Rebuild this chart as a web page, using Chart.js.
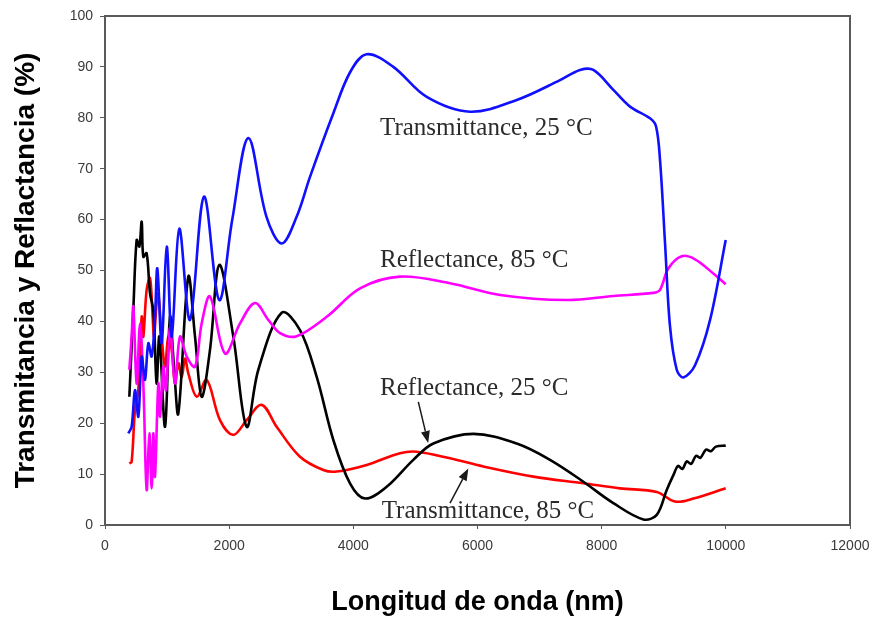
<!DOCTYPE html>
<html>
<head>
<meta charset="utf-8">
<script src="https://cdn.jsdelivr.net/npm/chart.js@4.4.1/dist/chart.umd.min.js"></script>
<style>
  body { margin: 0; background: #fff; }
  canvas { display: block; }
</style>
</head>
<body>
<canvas id="specChart" width="875" height="621"></canvas>
<script>
// wavelength (nm) / value (%)
const trans25X = [376, 429, 483, 537, 591, 644, 698, 752, 805, 843, 913, 994, 1074, 1197, 1369, 1595, 1840, 2050, 2309, 2600, 2846, 3088, 3302, 3678, 3950, 4215, 4644, 5182, 5880, 6632, 7329, 7651, 7866, 8188, 8457, 8779, 8876, 8940, 9021, 9101, 9209, 9316, 9504, 9746, 9998];
const trans25Y = [18, 19.3, 26.5, 21.3, 33.1, 28.5, 35.7, 33.1, 40.9, 50.4, 35.7, 54.7, 37, 58.2, 40.3, 64.5, 44.2, 60, 76.0, 60.6, 55.3, 60.6, 68.4, 80.9, 89, 92.5, 90.0, 84.1, 81.2, 83.5, 87.4, 89.4, 89.4, 85.5, 82.2, 79.9, 78.3, 71.7, 55.3, 39.0, 30.5, 29.0, 31.4, 40.3, 56.0];

const refl85X = [392, 429, 456, 510, 564, 617, 671, 714, 752, 778, 805, 859, 886, 939, 983, 1047, 1128, 1208, 1316, 1450, 1557, 1691, 1933, 2175, 2416, 2631, 2819, 3088, 3571, 4108, 4752, 5557, 6363, 7437, 8188, 8832, 8940, 9074, 9289, 9504, 9799, 9998];
const refl85Y = [30.5, 37, 42.9, 27.8, 39.6, 27.8, 6.9, 18, 7.2, 18, 9.5, 27.8, 21.3, 31.1, 26.5, 38.9, 27.8, 37, 33.1, 31.1, 39.6, 44.9, 33.7, 39.6, 43.6, 40.3, 37.7, 37.1, 40.9, 46.5, 48.8, 47.5, 45.2, 44.2, 45.0, 45.6, 46.2, 50.4, 52.8, 52.2, 49.4, 47.3];

const refl25X = [392, 456, 510, 553, 591, 617, 671, 725, 778, 832, 875, 967, 1047, 1111, 1181, 1342, 1450, 1557, 1691, 1842, 2067, 2282, 2470, 2846, 3141, 3410, 3678, 3946, 4188, 4537, 4966, 5289, 5933, 6632, 7168, 7705, 8188, 8672, 8887, 9048, 9155, 9230, 9300, 9370, 9440, 9520, 9590, 9680, 9760, 9840, 9998];
const refl25Y = [25.2, 42.2, 56, 54.7, 59.6, 52.7, 53.4, 45.5, 42.2, 27.8, 37, 19.3, 40.9, 31.1, 21.9, 48.8, 37, 25.2, 34.4, 51.1, 37, 19.3, 30.5, 41.7, 38.3, 29.1, 16.7, 8.2, 5.2, 7.5, 12.8, 16.0, 17.9, 16.0, 12.8, 8.5, 4.3, 1.1, 2.0, 6.9, 9.8, 11.6, 11.0, 12.5, 12.0, 13.6, 13.2, 14.8, 14.5, 15.4, 15.6];

const trans85X = [392, 429, 483, 537, 591, 617, 671, 725, 768, 789, 832, 859, 913, 967, 1020, 1074, 1128, 1181, 1235, 1289, 1342, 1477, 1638, 1852, 2067, 2282, 2524, 2765, 3141, 3517, 3732, 4215, 4752, 5021, 5557, 6094, 6900, 7705, 8296, 8887, 9182, 9477, 9998];
const trans85Y = [12.1, 12.4, 22.6, 26.5, 40.9, 37.0, 46.2, 48.5, 40.9, 37, 43.6, 45.5, 37, 31.1, 37, 34.4, 27.8, 31.8, 29.1, 32.7, 29.8, 25.2, 28.5, 20.6, 17.7, 20.6, 23.6, 19.3, 13.4, 10.8, 10.5, 11.8, 14.1, 14.4, 13.1, 11.5, 9.5, 8.2, 7.2, 6.5, 4.6, 5.2, 7.2];

const seriesNames = ["Transmittance, 25 °C", "Reflectance, 85 °C", "Reflectance, 25 °C", "Transmittance, 85 °C"];
const xTicks = [0, 2000, 4000, 6000, 8000, 10000, 12000];
const yTicks = [0, 10, 20, 30, 40, 50, 60, 70, 80, 90, 100];

// label positions in data units (left edge, baseline)
const noteX = [4430, 4430, 4430, 4457];
const noteY = [76.6, 50.7, 25.5, 1.4];
// arrows: [fromX, fromY, toX, toY]
const arrows = [
    [5047, 24.2, 5206, 16.1],
    [5557, 4.3, 5852, 11.1]
];

function pts(xs, ys) {
    return xs.map((v, i) => ({ x: v, y: ys[i] }));
}

const notesPlugin = {
    id: 'notes',
    afterDatasetsDraw(chart) {
        const { ctx, scales: { x, y } } = chart;
        ctx.save();
        ctx.font = '25px "Liberation Serif", "Times New Roman", serif';
        ctx.fillStyle = '#2b2b2b';
        ctx.textBaseline = 'alphabetic';
        seriesNames.forEach(function (t, i) {
            ctx.fillText(t, x.getPixelForValue(noteX[i]), y.getPixelForValue(noteY[i]));
        });

        ctx.strokeStyle = '#1a1a1a';
        ctx.fillStyle = '#1a1a1a';
        ctx.lineWidth = 1.5;
        arrows.forEach(function (a) {
            const x0 = x.getPixelForValue(a[0]), y0 = y.getPixelForValue(a[1]);
            const x1 = x.getPixelForValue(a[2]), y1 = y.getPixelForValue(a[3]);
            const ang = Math.atan2(y1 - y0, x1 - x0);
            const len = 12, half = 4.5;
            const bx = x1 - len * Math.cos(ang), by = y1 - len * Math.sin(ang);
            ctx.beginPath();
            ctx.moveTo(x0, y0);
            ctx.lineTo(bx, by);
            ctx.stroke();
            ctx.beginPath();
            ctx.moveTo(x1, y1);
            ctx.lineTo(bx + half * Math.sin(ang), by - half * Math.cos(ang));
            ctx.lineTo(bx - half * Math.sin(ang), by + half * Math.cos(ang));
            ctx.closePath();
            ctx.fill();
        });
        ctx.restore();
    },
    afterDraw(chart) {
        const { ctx, chartArea: a } = chart;
        ctx.save();
        ctx.strokeStyle = '#5a5a5a';
        ctx.lineWidth = 2;
        ctx.strokeRect(a.left, a.top, a.right - a.left, a.bottom - a.top);
        ctx.restore();
    }
};

const lineStyle = { pointRadius: 0, borderWidth: 2.6, fill: false, tension: 0.35 };

new Chart(document.getElementById('specChart').getContext('2d'), {
    type: 'line',
    data: {
        datasets: [
            Object.assign({ label: seriesNames[0], data: pts(trans25X, trans25Y), borderColor: '#1010ff' }, lineStyle),
            Object.assign({ label: seriesNames[1], data: pts(refl85X, refl85Y), borderColor: '#ff00ff' }, lineStyle),
            Object.assign({ label: seriesNames[2], data: pts(refl25X, refl25Y), borderColor: '#000000' }, lineStyle),
            Object.assign({ label: seriesNames[3], data: pts(trans85X, trans85Y), borderColor: '#ff0000' }, lineStyle)
        ]
    },
    options: {
        responsive: false,
        animation: false,
        layout: { padding: { top: 16, right: 25, left: 0, bottom: 0 } },
        plugins: { legend: { display: false }, tooltip: { enabled: false } },
        scales: {
            x: {
                type: 'linear',
                min: 0,
                max: 12000,
                afterFit: function (s) {
                    s.height = 96;
                    s.paddingLeft = 0;
                    s.paddingRight = 20;
                },
                afterBuildTicks: function (s) { s.ticks = xTicks.map(v => ({ value: v })); },
                ticks: {
                    color: '#3a3a3a',
                    font: { family: 'Liberation Sans, Arial', size: 14 },
                    padding: 9,
                    maxRotation: 0,
                    callback: function (v) { return String(v); }
                },
                grid: { drawOnChartArea: false, color: '#5a5a5a', tickLength: 4 },
                border: { display: false },
                title: {
                    display: true,
                    text: 'Longitud de onda (nm)',
                    color: '#000',
                    font: { family: 'Liberation Sans, Arial', size: 27, weight: 'bold' },
                    padding: { top: 0, bottom: 2 }
                }
            },
            y: {
                min: 0,
                max: 100,
                afterFit: function (s) { s.width = 105; },
                afterBuildTicks: function (s) { s.ticks = yTicks.map(v => ({ value: v })); },
                ticks: {
                    color: '#3a3a3a',
                    font: { family: 'Liberation Sans, Arial', size: 14 },
                    padding: 7,
                    callback: function (v) { return String(v); }
                },
                grid: { drawOnChartArea: false, color: '#5a5a5a', tickLength: 5 },
                border: { display: false },
                title: {
                    display: true,
                    text: 'Transmitancia y Reflactancia (%)',
                    color: '#000',
                    font: { family: 'Liberation Sans, Arial', size: 28, weight: 'bold' },
                    padding: { top: 9, bottom: 0 }
                }
            }
        }
    },
    plugins: [notesPlugin]
});
</script>
</body>
</html>
